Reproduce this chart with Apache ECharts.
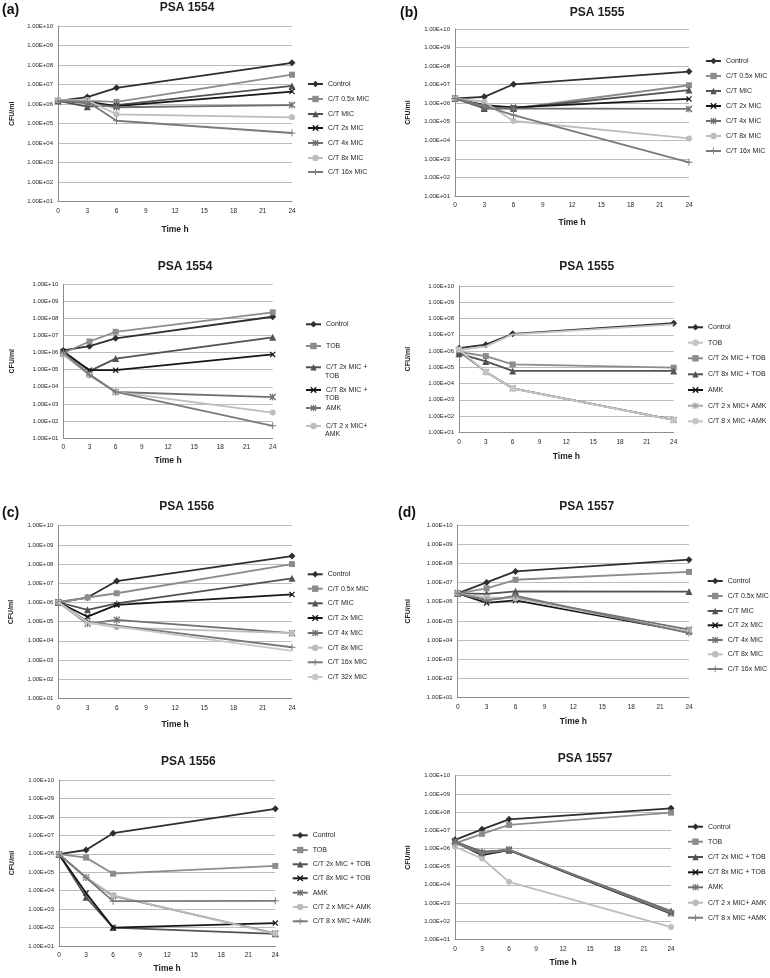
<!DOCTYPE html>
<html><head><meta charset="utf-8">
<script src="https://cdn.jsdelivr.net/npm/echarts@6/dist/echarts.min.js"></script>
<style>
html,body{margin:0;padding:0;background:#fff;}
#wrap{position:relative;width:770px;height:978px;overflow:hidden;background:#fff;}
.p{position:absolute;}
</style></head><body><div id="wrap"></div>
<script>
// ---------------- data ----------------
const TIMES = [0, 3, 6, 24];
const X_TICKS = [0, 3, 6, 9, 12, 15, 18, 21, 24];
const Y_TICK_LABELS = ['1.00E+01','1.00E+02','1.00E+03','1.00E+04','1.00E+05','1.00E+06','1.00E+07','1.00E+08','1.00E+09','1.00E+10'];

const NAMES_CT7 = ['Control','C/T 0.5x MIC','C/T MIC','C/T 2x MIC','C/T 4x MIC','C/T 8x MIC','C/T 16x MIC'];
const NAMES_CT8 = ['Control','C/T 0.5x MIC','C/T MIC','C/T 2x MIC','C/T 4x MIC','C/T 8x MIC','C/T 16x MIC','C/T 32x MIC'];
const NAMES_COMBO = ['Control','TOB','C/T 2x MIC + TOB','C/T 8x MIC + TOB','AMK','C/T 2 x MIC+ AMK','C/T 8 x MIC +AMK'];

// CFU/ml at TIMES, one row per series (same order as the names)
const PSA1554_CT = [
  [1.45e6, 2.3e6, 6.8e6, 1.3e8],
  [1.45e6, 1.45e6, 1.3e6, 3.2e7],
  [1.45e6, 7.4e5, 8.9e5, 8.5e6],
  [1.45e6, 1.35e6, 7.9e5, 4.4e6],
  [1.45e6, 1.1e6, 6.9e5, 8.9e5],
  [1.6e6, 1.6e6, 3.0e5, 2.1e5],
  [1.45e6, 1.35e6, 1.4e5, 3.3e4]
];
const PSA1555_CT = [
  [1.8e6, 2.2e6, 1.05e7, 5.1e7],
  [1.8e6, 7.1e5, 5.2e5, 9.3e6],
  [1.8e6, 5.2e5, 5.2e5, 5.1e6],
  [1.8e6, 7.9e5, 6.0e5, 1.7e6],
  [1.8e6, 6.0e5, 5.2e5, 4.9e5],
  [1.8e6, 1.2e6, 1.1e5, 1.26e4],
  [1.8e6, 7.1e5, 2.3e5, 6.5e2]
];
const PSA1554_COMBO = [
  [1.35e6, 2.4e6, 6.9e6, 1.26e8],
  [9.5e5, 4.5e6, 1.66e7, 2.3e8],
  [1.17e6, 8.3e4, 4.5e5, 7.9e6],
  [1.17e6, 9.5e4, 9.5e4, 7.9e5],
  [8.7e5, 5.4e4, 5.0e3, 2.5e3],
  [7.6e5, 4.9e4, 5.0e3, 3.1e2],
  [1.0e6, 5.0e4, 5.0e3, 5.2e1]
];
const PSA1555_COMBO = [
  [1.5e6, 2.45e6, 1.15e7, 5.1e7],
  [1.1e6, 1.95e6, 1.05e7, 4.3e7],
  [8.7e5, 4.9e5, 1.5e5, 9.5e4],
  [6.9e5, 2.3e5, 6.0e4, 6.0e4],
  [1.0e6, 5.2e4, 5.1e3, 5.8e1],
  [1.12e6, 5.1e4, 4.9e3, 5.8e1],
  [1.26e6, 5.2e4, 5.0e3, 5.6e1]
];
const PSA1556_CT = [
  [1.02e6, 1.8e6, 1.3e7, 2.6e8],
  [1.02e6, 1.8e6, 3.0e6, 1.0e8],
  [1.02e6, 4.1e5, 8.9e5, 1.8e7],
  [1.02e6, 1.8e5, 7.4e5, 2.6e6],
  [1.02e6, 7.6e4, 1.23e5, 2.5e4],
  [1.02e6, 8.9e4, 5.0e4, 2.5e4],
  [1.02e6, 1.0e5, 6.2e4, 4.6e3],
  [1.02e6, 8.9e4, 5.5e4, 3.0e3]
];
const PSA1557_CT = [
  [2.75e6, 1.02e7, 3.8e7, 1.55e8],
  [2.75e6, 5.0e6, 1.4e7, 3.6e7],
  [2.75e6, 2.6e6, 3.5e6, 3.4e6],
  [2.75e6, 8.7e5, 1.17e6, 2.6e4],
  [2.75e6, 1.3e6, 1.7e6, 3.5e4],
  [2.75e6, 1.7e6, 1.5e6, 2.8e4],
  [2.75e6, 1.15e6, 2.1e6, 2.3e4]
];
const PSA1556_COMBO = [
  [9.5e5, 1.6e6, 1.3e7, 2.75e8],
  [9.5e5, 6.2e5, 8.3e4, 2.2e5],
  [9.5e5, 4.4e3, 1.0e2, 4.6e1],
  [9.5e5, 7.4e3, 1.0e2, 1.74e2],
  [9.5e5, 5.2e4, 5.2e3, 4.8e1],
  [9.5e5, 5.2e4, 5.6e3, 4.6e1],
  [9.5e5, 5.2e4, 2.7e3, 2.8e3]
];
const PSA1557_COMBO = [
  [2.95e6, 1.12e7, 4.0e7, 1.6e8],
  [1.9e6, 6.3e6, 1.95e7, 9.3e7],
  [2.3e6, 6.6e5, 7.9e5, 3.6e2],
  [2.3e6, 4.3e5, 8.1e5, 2.6e2],
  [2.5e6, 5.8e5, 8.7e5, 2.75e2],
  [1.23e6, 2.8e5, 1.45e4, 4.7e1],
  [2.0e6, 5.2e5, 8.3e5, 3.2e2]
];

// ---------------- styles ----------------
const FONT = "'Liberation Sans', Arial, sans-serif";
const NARROW = "'Liberation Sans Narrow', 'Liberation Sans', Arial, sans-serif";
const SYM_X = 'path://M0,1.4L1.4,0L10,8.6L8.6,10ZM8.6,0L10,1.4L1.4,10L0,8.6Z';
const SYM_PLUS = 'path://M4.3,0H5.7V10H4.3ZM0,4.3H10V5.7H0Z';
const SYM_STAR = 'path://M0,1.4L1.4,0L10,8.6L8.6,10ZM8.6,0L10,1.4L1.4,10L0,8.6ZM4.3,0H5.7V10H4.3Z';

const STYLE_CT = [
  {color:'#2f2f2f', symbol:'diamond', size:7},
  {color:'#8c8c8c', symbol:'rect', size:6},
  {color:'#525252', symbol:'triangle', size:7},
  {color:'#161616', symbol:SYM_X, size:6},
  {color:'#707070', symbol:SYM_STAR, size:7},
  {color:'#bdbdbd', symbol:'circle', size:6},
  {color:'#7a7a7a', symbol:SYM_PLUS, size:7},
  {color:'#c8c8c8', symbol:'none', size:0}
];
const STYLE_COMBO = [
  {color:'#2f2f2f', symbol:'diamond', size:7},
  {color:'#8c8c8c', symbol:'rect', size:6},
  {color:'#525252', symbol:'triangle', size:7},
  {color:'#161616', symbol:SYM_X, size:6},
  {color:'#707070', symbol:SYM_STAR, size:7},
  {color:'#bdbdbd', symbol:'circle', size:6},
  {color:'#7a7a7a', symbol:SYM_PLUS, size:7}
];
const STYLE_COMBO_B = [
  {color:'#2f2f2f', symbol:'diamond', size:7},
  {color:'#c4c4c4', symbol:'none', size:0},
  {color:'#8c8c8c', symbol:'rect', size:6},
  {color:'#525252', symbol:'triangle', size:7},
  {color:'#161616', symbol:SYM_X, size:6},
  {color:'#a8a8a8', symbol:SYM_STAR, size:7},
  {color:'#c4c4c4', symbol:'circle', size:6}
];

// ---------------- layout (page pixels) ----------------
const PANELS = [
  {box:[0,0,385,240], grid:[58,26,292,201.7], title:'PSA 1554', titleAt:[187,8], tag:'(a)', tagAt:[2,10],
   names:NAMES_CT7, values:PSA1554_CT, styles:STYLE_CT, legendX:307, legendY:[84,99,114,128,143,158,172], yNameX:12, xNameY:230},
  {box:[385,0,385,240], grid:[455,29,689,196], title:'PSA 1555', titleAt:[597,13], tag:'(b)', tagAt:[400,13],
   names:NAMES_CT7, values:PSA1555_CT, styles:STYLE_CT, legendX:705, legendY:[61,76,91,106,121,136,151], yNameX:408, xNameY:223},
  {box:[0,240,385,230], grid:[63.3,284.3,272.7,441], title:'PSA 1554', titleAt:[185,266.7],
   names:NAMES_COMBO, values:PSA1554_COMBO, styles:STYLE_COMBO, legendNames:NAMES_COMBO.slice(0,6),
   wrap:{'C/T 2x MIC + TOB':['C/T 2x MIC +','TOB'], 'C/T 8x MIC + TOB':['C/T 8x MIC +','TOB'], 'C/T 2 x MIC+ AMK':['C/T 2 x MIC+','AMK']},
   wrapGap:8.5, legendX:305, legendY:[324.3,346,367.3,390,408,426], yNameX:11.7, xNameY:460},
  {box:[385,240,385,230], grid:[459,286,673.7,432.3], title:'PSA 1555', titleAt:[586.7,266.7],
   names:NAMES_COMBO, values:PSA1555_COMBO, styles:STYLE_COMBO_B, legendX:687, legendY:[327.3,342.7,358.3,374.3,390,405.7,421.3], yNameX:408, xNameY:457},
  {box:[0,470,385,265], grid:[58.3,525.7,292,698.3], title:'PSA 1556', titleAt:[186.7,506.7], tag:'(c)', tagAt:[2,513],
   names:NAMES_CT8, values:PSA1556_CT, styles:STYLE_CT, legendX:306.7, legendY:[574.3,588.7,603.3,618,633,647.7,662.3,677], yNameX:11, xNameY:725},
  {box:[385,470,385,265], grid:[457.7,525,689,697.7], title:'PSA 1557', titleAt:[586.7,506.7], tag:'(d)', tagAt:[398,513],
   names:NAMES_CT7, values:PSA1557_CT, styles:STYLE_CT, legendX:706.7, legendY:[581,596,611,625.3,640,654.3,669], yNameX:408, xNameY:721.7},
  {box:[0,735,385,243], grid:[59,780,275.3,949.3], title:'PSA 1556', titleAt:[188.3,761.7],
   names:NAMES_COMBO, values:PSA1556_COMBO, styles:STYLE_COMBO, legendX:291.7, legendY:[835.3,850,864.3,878.3,892.7,907,921.3], yNameX:11.7, xNameY:972.3},
  {box:[385,735,385,243], grid:[455,775.7,671,939.3], title:'PSA 1557', titleAt:[585,758.3],
   names:NAMES_COMBO, values:PSA1557_COMBO, styles:STYLE_COMBO, legendX:687, legendY:[826.7,841.7,857,872.3,887.3,902.7,917.7], yNameX:408, xNameY:963.3}
];

const wrapEl = document.getElementById('wrap');
const ICON_W = 15;

function build(p) {
  const [bx, by, bw, bh] = p.box;
  const div = document.createElement('div');
  div.className = 'p';
  div.style.cssText = `left:${bx}px;top:${by}px;width:${bw}px;height:${bh}px;`;
  wrapEl.appendChild(div);
  const chart = echarts.init(div, null, {renderer:'canvas', width:bw, height:bh});
  const [gl, gt, gr, gb] = p.grid;

  const series = p.names.map((n, i) => {
    const st = p.styles[i];
    return {
      type:'line', name:n,
      data: TIMES.map((t, k) => [t, p.values[i][k]]),
      symbol: st.symbol, symbolSize: st.size, showSymbol: st.symbol !== 'none',
      lineStyle:{color:st.color, width:1.8}, itemStyle:{color:st.color},
      emphasis:{disabled:true}, animation:false, z: 2 + i
    };
  });

  const legendNames = p.legendNames || p.names;
  const wrapMap = p.wrap || {};
  const legends = legendNames.map((n, i) => ({
    data:[n], orient:'vertical', left: p.legendX - bx, top: p.legendY[i] - by - 4.5,
    padding:0, itemWidth:ICON_W, itemHeight:8, itemGap:0, selectedMode:false,
    formatter: nm => wrapMap[nm] ? wrapMap[nm][0] : nm,
    textStyle:{fontSize:7, lineHeight:9, color:'#262626', fontFamily:FONT}
  }));

  const graphics = [];
  graphics.push({type:'text', x:p.titleAt[0]-bx, y:p.titleAt[1]-by, silent:true,
    style:{text:p.title, align:'center', verticalAlign:'middle', font:`bold 12px ${FONT}`, fill:'#1e1e1e'}});
  if (p.tag) graphics.push({type:'text', x:p.tagAt[0]-bx, y:p.tagAt[1]-by, silent:true,
    style:{text:p.tag, align:'left', verticalAlign:'middle', font:`bold 14px ${FONT}`, fill:'#111'}});
  legendNames.forEach((n, i) => {
    if (wrapMap[n]) graphics.push({type:'text', x:p.legendX - bx + ICON_W + 5, y:p.legendY[i] - by + (p.wrapGap || 9), silent:true,
      style:{text:wrapMap[n][1], align:'left', verticalAlign:'middle', font:`7px ${FONT}`, fill:'#262626'}});
  });

  chart.setOption({
    animation:false,
    backgroundColor:'#fff',
    grid:{left:gl-bx, top:gt-by, width:gr-gl, height:gb-gt, containLabel:false},
    xAxis:{type:'value', min:X_TICKS[0], max:X_TICKS[X_TICKS.length-1], interval:X_TICKS[1]-X_TICKS[0],
      name:'Time h', nameLocation:'middle', nameGap:p.xNameY - gb - 5,
      nameTextStyle:{fontWeight:'bold', fontSize:8.5, color:'#1e1e1e', fontFamily:FONT},
      axisLine:{show:true, lineStyle:{color:'#8c8c8c', width:1}}, axisTick:{show:false},
      splitLine:{show:false},
      axisLabel:{fontSize:6.5, color:'#262626', fontFamily:FONT, margin:6}},
    yAxis:{type:'log', logBase:10, min:10, max:1e10, splitNumber:9,
      name:'CFU/ml', nameLocation:'middle', nameRotate:90, nameGap: gl - p.yNameX - 4,
      nameTextStyle:{fontWeight:'bold', fontSize:7, color:'#1e1e1e', fontFamily:FONT},
      axisLine:{show:true, lineStyle:{color:'#8c8c8c', width:1}}, axisTick:{show:false},
      splitLine:{show:true, lineStyle:{color:'#bcbcbc', width:1}},
      axisLabel:{fontSize:6, color:'#262626', fontFamily:NARROW, margin:5,
        formatter: v => Y_TICK_LABELS[Math.round(Math.log10(v)) - 1] || ''}},
    legend: legends,
    graphic: graphics,
    series: series
  });
}

PANELS.forEach(build);
</script></body></html>
